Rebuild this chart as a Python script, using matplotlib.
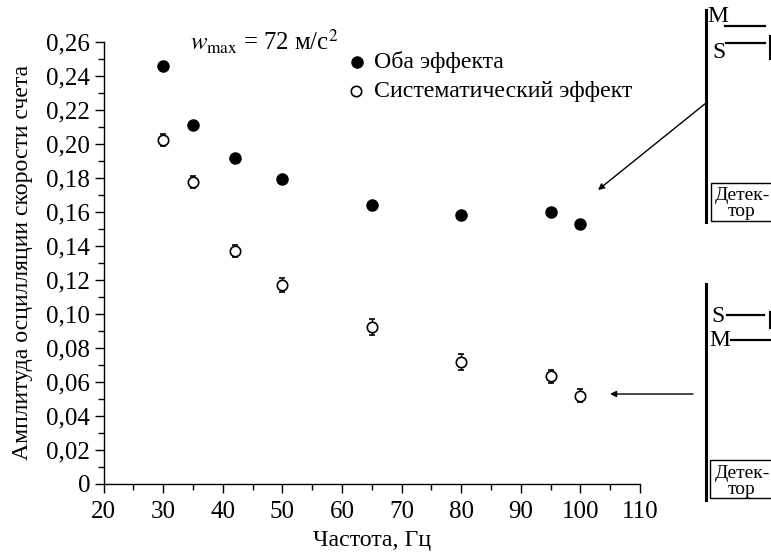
import matplotlib
matplotlib.use('Agg')
import matplotlib.pyplot as plt
from matplotlib.lines import Line2D
from matplotlib.patches import Rectangle, FancyArrowPatch

W, H = 771, 552
plt.rcParams['font.family'] = ['Liberation Serif', 'DejaVu Serif']
plt.rcParams['mathtext.fontset'] = 'stix'

freq = [30, 35, 42, 50, 65, 80, 95, 100]
both = [0.2461, 0.2112, 0.1919, 0.1796, 0.1641, 0.1582, 0.1600, 0.1529]
syst = [0.2021, 0.1775, 0.1370, 0.1170, 0.0924, 0.0718, 0.0633, 0.0519]
syst_err = [0.0035, 0.0035, 0.0035, 0.0040, 0.0047, 0.0047, 0.0038, 0.0038]
xticks = [20, 30, 40, 50, 60, 70, 80, 90, 100, 110]
xminor = [25, 35, 45, 55, 65, 75, 85, 95, 105]
yticks = [0, .02, .04, .06, .08, .10, .12, .14, .16, .18, .20, .22, .24, .26]
yminor = [.01, .03, .05, .07, .09, .11, .13, .15, .17, .19, .21, .23, .25]
ylabels = ['0'] + [f'{v:.2f}'.replace('.', ',') for v in yticks[1:]]

fig = plt.figure(figsize=(W / 100, H / 100), dpi=100)
L, R, T, B = 103.5, 640, 42, 484
ax = fig.add_axes([L / W, 1 - B / H, (R - L) / W, (B - T) / H])
ax.set_xlim(20, 110)
ax.set_ylim(0, 0.26)
for s in ('top', 'right'):
    ax.spines[s].set_visible(False)
for s in ('left', 'bottom'):
    ax.spines[s].set_linewidth(1.0)
ax.set_xticks(xticks)
ax.set_xticks(xminor, minor=True)
ax.set_yticks(yticks, ylabels)
ax.set_yticks(yminor, minor=True)
ax.tick_params(which='major', length=6.5, width=1.0, labelsize=18, pad=3)
ax.tick_params(axis='x', which='major', pad=6)
ax.tick_params(which='minor', length=4, width=1.0)
ax.patch.set_alpha(0)
ax.set_xlabel('Частота, Гц', fontsize=17.2, labelpad=5)
ax.set_ylabel('Амплитуда осцилляции скорости счета', fontsize=17.1, labelpad=10)

ax.plot(freq, both, 'o', color='k', ms=8, clip_on=False, label='Оба эффекта')
ax.errorbar(freq, syst, yerr=syst_err, fmt='o', mfc='white', mec='k', ecolor='k',
            ms=7.5, mew=1.2, elinewidth=1, capsize=2.5, clip_on=False,
            label='Систематический эффект')


def fx(x):
    return x / W


def fy(y):
    return 1 - y / H


def line(x0, y0, x1, y1, lw=1.0):
    fig.add_artist(Line2D([fx(x0), fx(x1)], [fy(y0), fy(y1)], color='k', lw=lw))


def text(x, y, s, size, ha='left'):
    fig.text(fx(x), fy(y), s, fontsize=size, ha=ha, va='center')


text(190, 42, r'$w_{\mathrm{max}}$ = 72 м/с$^2$', 17.8)
fig.add_artist(Line2D([fx(357)], [fy(62)], marker='o', ms=8, color='k'))
fig.add_artist(Line2D([fx(355.5)], [fy(91)], marker='o', ms=7.5, mfc='white', mec='k', mew=1.2))
text(374, 62, 'Оба эффекта', 17.2)
text(374, 91, 'Систематический эффект', 17.2)

# Arrows
for (x0, y0, x1, y1) in [(706, 103, 598, 190), (693, 394, 610, 394)]:
    fig.add_artist(FancyArrowPatch(
        (fx(x0), fy(y0)), (fx(x1), fy(y1)), transform=fig.transFigure,
        arrowstyle='-|>', mutation_scale=9, color='k', lw=1.0, shrinkA=0, shrinkB=0))

# Upper schematic
line(706, 10, 706, 222, 2.2)
text(707, 16, 'M', 17)
text(712, 52, 'S', 17)
line(725, 26, 765, 26, 1.6)
line(726, 43, 765, 43, 1.6)
line(769.5, 36, 769.5, 58, 2.2)
fig.add_artist(Rectangle((fx(711), fy(221)), 62 / W, 38 / H, transform=fig.transFigure,
                         fc='none', ec='k', lw=1.0))
text(742, 196, 'Детек-', 14, 'center')
text(742, 212, 'тор', 14, 'center')

# Lower schematic
line(706, 284, 706, 500, 2.2)
text(711, 316, 'S', 17)
text(709, 341, 'M', 17)
line(727, 315, 764, 315, 1.6)
line(731, 340, 771, 340, 1.6)
line(770, 312, 770, 328, 1.5)
fig.add_artist(Rectangle((fx(710), fy(498)), 63 / W, 38 / H, transform=fig.transFigure,
                         fc='none', ec='k', lw=1.0))
text(742, 474, 'Детек-', 14, 'center')
text(742, 490, 'тор', 14, 'center')

fig.savefig('out.png', dpi=100)
